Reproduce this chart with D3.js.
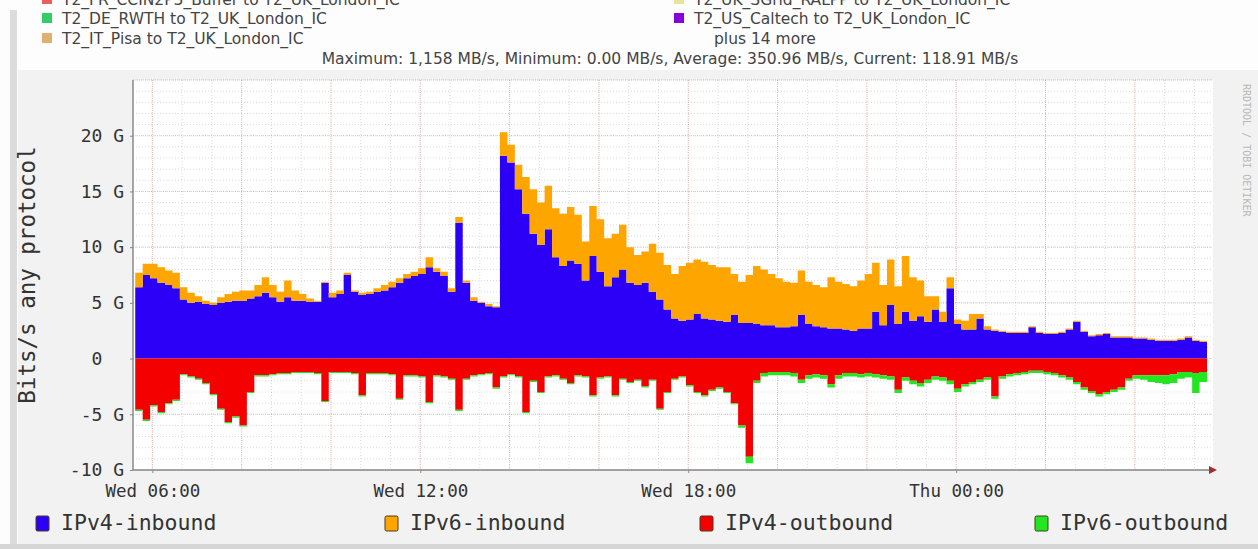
<!DOCTYPE html>
<html>
<head>
<meta charset="utf-8">
<script src="https://cdn.jsdelivr.net/npm/d3@7"></script>
<style>
  body { margin: 0; background: #fff; }
  svg { display: block; }
</style>
</head>
<body>
<svg id="chart" width="1258" height="549"></svg>
<script>
// 10-minute samples from Wed 05:37, values in Gbit/s
const ipv4In = [
  6.4, 7.5, 7.2, 6.8, 6.6, 6.3, 5.3, 5.0, 5.1, 4.9,
  4.8, 5.0, 5.1, 5.2, 5.2, 5.4, 5.6, 5.9, 5.5, 5.1,
  5.5, 5.2, 5.2, 5.1, 5.1, 6.8, 5.5, 5.8, 7.5, 6.0,
  5.7, 5.8, 6.0, 6.1, 6.4, 6.8, 7.2, 7.4, 7.6, 8.2,
  7.8, 7.4, 6.0, 12.2, 6.8, 5.2, 5.0, 4.7, 4.6, 18.2,
  17.6, 15.2, 13.0, 11.2, 10.2, 11.6, 9.1, 8.3, 8.8, 8.5,
  7.0, 9.2, 7.8, 6.5, 7.3, 8.0, 6.8, 6.6, 6.8, 6.0,
  5.3, 4.4, 3.6, 3.4, 3.5, 4.0, 3.6, 3.5, 3.4, 3.3,
  3.9, 3.2, 3.2, 3.1, 3.0, 3.0, 2.8, 2.8, 2.9, 3.9,
  3.1, 2.9, 2.8, 2.7, 2.7, 2.6, 2.5, 2.7, 2.7, 4.2,
  3.0, 4.8, 3.1, 4.2, 3.4, 3.8, 3.3, 4.4, 3.3, 6.3,
  3.1, 2.6, 2.6, 3.6, 2.6, 2.5, 2.4, 2.3, 2.3, 2.3,
  2.8, 2.3, 2.2, 2.2, 2.3, 2.6, 3.3, 2.4, 2.0, 2.1,
  2.2, 1.9, 1.9, 1.9, 1.8, 1.8, 1.7, 1.6, 1.6, 1.6,
  1.7, 1.9, 1.6, 1.5
];
const ipv6In = [
  1.3, 1.0, 1.3, 1.4, 1.3, 1.4, 1.1, 0.9, 0.5, 0.3,
  0.2, 0.5, 0.7, 0.8, 0.9, 0.7, 1.0, 1.4, 1.1, 0.9,
  1.5, 0.9, 0.6, 0.3, 0.1, 0.1, 0.4, 0.3, 0.2, 0.1,
  0.2, 0.2, 0.3, 0.5, 0.5, 0.4, 0.4, 0.4, 0.5, 0.9,
  0.3, 0.4, 0.3, 0.5, 0.2, 0.3, 0.1, 0.2, 0.1, 2.1,
  1.6, 2.2, 3.3, 4.0, 3.8, 3.9, 4.4, 4.7, 4.8, 4.4,
  3.5, 4.5, 4.7, 4.3, 3.9, 4.0, 3.2, 2.7, 2.8, 4.3,
  4.2, 4.0, 4.0, 4.9, 5.1, 4.9, 5.1, 4.9, 4.8, 4.9,
  3.7, 3.7, 4.3, 5.2, 5.0, 4.6, 4.4, 4.1, 3.9, 4.0,
  3.8, 3.7, 3.6, 4.6, 4.2, 4.1, 4.0, 4.3, 4.9, 4.4,
  3.6, 4.1, 3.4, 5.0, 3.9, 3.2, 2.3, 1.2, 0.9, 1.0,
  0.4, 0.8, 1.4, 0.4, 0.3, 0.1, 0.1, 0.1, 0.1, 0.1,
  0.1, 0.1, 0.1, 0.1, 0.1, 0.1, 0.1, 0.1, 0.1, 0.1,
  0.1, 0.1, 0.1, 0.1, 0.1, 0.1, 0.1, 0.1, 0.1, 0.1,
  0.1, 0.1, 0.1, 0.1
];
const ipv4Out = [
  -4.6, -5.5, -4.2, -4.8, -4.0, -3.7, -1.4, -1.6, -1.8, -2.2,
  -3.2, -4.5, -5.7, -5.2, -6.0, -3.0, -1.5, -1.5, -1.4, -1.3,
  -1.3, -1.2, -1.2, -1.2, -1.3, -3.8, -1.2, -1.2, -1.2, -1.3,
  -3.3, -1.3, -1.3, -1.3, -1.4, -3.6, -1.5, -1.5, -1.6, -3.9,
  -1.5, -1.6, -1.8, -4.6, -1.8, -1.5, -1.4, -1.3, -2.6, -1.6,
  -1.4, -1.6, -4.8, -2.0, -3.0, -1.6, -1.5, -1.8, -2.2, -1.5,
  -1.6, -3.3, -1.7, -1.6, -3.3, -1.8, -2.1, -1.9, -2.5, -1.9,
  -4.5, -3.0, -1.8, -1.6, -2.4, -3.0, -3.3, -2.8, -2.6, -3.0,
  -4.0, -6.0, -8.8, -2.0, -1.3, -1.2, -1.2, -1.2, -1.3, -1.9,
  -1.5, -1.4, -1.5, -2.3, -1.5, -1.3, -1.3, -1.4, -1.3, -1.4,
  -1.5, -1.6, -2.8, -1.7, -2.0, -2.2, -1.9, -1.6, -1.7, -2.0,
  -2.7, -2.3, -2.1, -1.9, -1.7, -3.4, -1.6, -1.4, -1.3, -1.2,
  -1.1, -1.1, -1.2, -1.3, -1.5, -1.7, -2.1, -2.6, -2.9, -3.2,
  -3.0, -2.8, -2.6, -1.8, -1.5, -1.5, -1.5, -1.5, -1.5, -1.4,
  -1.2, -1.2, -1.3, -1.2
];
const ipv6Out = [
  -0.1, -0.1, -0.1, -0.1, -0.1, -0.1, -0.1, -0.1, -0.1, -0.1,
  -0.1, -0.1, -0.1, -0.1, -0.1, -0.1, -0.1, -0.1, -0.1, -0.1,
  -0.1, -0.1, -0.1, -0.1, -0.1, -0.1, -0.1, -0.1, -0.1, -0.1,
  -0.1, -0.1, -0.1, -0.1, -0.1, -0.1, -0.1, -0.1, -0.1, -0.1,
  -0.1, -0.1, -0.1, -0.1, -0.1, -0.1, -0.1, -0.1, -0.1, -0.1,
  -0.1, -0.1, -0.1, -0.1, -0.1, -0.1, -0.1, -0.1, -0.1, -0.1,
  -0.1, -0.1, -0.1, -0.1, -0.1, -0.1, -0.1, -0.1, -0.1, -0.1,
  -0.1, -0.1, -0.1, -0.1, -0.1, -0.1, -0.1, -0.1, -0.1, -0.1,
  -0.1, -0.2, -0.6, -0.2, -0.3, -0.3, -0.3, -0.3, -0.3, -0.3,
  -0.3, -0.3, -0.3, -0.3, -0.3, -0.3, -0.3, -0.3, -0.3, -0.3,
  -0.3, -0.3, -0.3, -0.3, -0.3, -0.3, -0.3, -0.3, -0.3, -0.3,
  -0.3, -0.2, -0.2, -0.2, -0.2, -0.2, -0.2, -0.2, -0.2, -0.2,
  -0.2, -0.2, -0.2, -0.2, -0.2, -0.2, -0.2, -0.2, -0.2, -0.2,
  -0.2, -0.2, -0.2, -0.2, -0.3, -0.4, -0.6, -0.7, -0.8, -0.8,
  -0.6, -0.5, -1.8, -0.9
];

const seriesKeys = ['ipv4In', 'ipv6In', 'ipv4Out', 'ipv6Out'];
const seriesNames = ['IPv4-inbound', 'IPv6-inbound', 'IPv4-outbound', 'IPv6-outbound'];
const seriesColors = ['#2c00f6', '#ffa500', '#f40000', '#22e622'];

const yTicks = [-10, -5, 0, 5, 10, 15, 20];
const yTickLabels = ['-10 G', '-5 G', '0\u00a0\u00a0', '5 G', '10 G', '15 G', '20 G'];
const yTitle = 'Bits/s any protocol';

const topLegend = [
  { row: 0, col: 0, color: '#e86060', text: 'T2_FR_CCIN2P3_Buffer to T2_UK_London_IC' },
  { row: 0, col: 1, color: '#e8e4a0', text: 'T2_UK_SGrid_RALPP to T2_UK_London_IC' },
  { row: 1, col: 0, color: '#33cc66', text: 'T2_DE_RWTH to T2_UK_London_IC' },
  { row: 1, col: 1, color: '#8a00d8', text: 'T2_US_Caltech to T2_UK_London_IC' },
  { row: 2, col: 0, color: '#e0b070', text: 'T2_IT_Pisa to T2_UK_London_IC' },
  { row: 2, col: 1, color: null, text: 'plus 14 more' }
];
const statsLine = 'Maximum: 1,158 MB/s, Minimum: 0.00 MB/s, Average: 350.96 MB/s, Current: 118.91 MB/s';

const start = new Date(2013, 0, 2, 5, 37);
const stepMin = 10;

const W = 1258, H = 549;
const plot = { left: 133, right: 1213, top: 80, bottom: 470 };
const mono = '"DejaVu Sans Mono", monospace';
const sans = '"DejaVu Sans", sans-serif';

const svg = d3.select('#chart');

// page / rrd canvas backgrounds
svg.append('rect').attr('width', W).attr('height', H).attr('fill', '#fdfdfd');
svg.append('rect').attr('x', 18).attr('y', 70).attr('width', W - 18).attr('height', 474)
  .attr('fill', '#f2f2f2');
svg.append('rect').attr('x', 10).attr('y', 10).attr('width', 7).attr('height', 534)
  .attr('fill', '#dcdcdc');
svg.append('rect').attr('x', 0).attr('y', 544).attr('width', W).attr('height', 5)
  .attr('fill', '#d6d6d6');

// table for the stack
const rows = ipv4In.map((v, i) => ({
  time: d3.timeMinute.offset(start, i * stepMin),
  ipv4In: v, ipv6In: ipv6In[i], ipv4Out: ipv4Out[i], ipv6Out: ipv6Out[i]
}));
// close the last step
rows.push(Object.assign({}, rows[rows.length - 1],
  { time: d3.timeMinute.offset(start, rows.length * stepMin) }));

const x = d3.scaleTime()
  .domain([new Date(2013, 0, 2, 5, 34), new Date(2013, 0, 3, 5, 45)])
  .range([plot.left, plot.right]);
const y = d3.scaleLinear().domain([-10, 25]).range([plot.bottom, plot.top]);

// plot area
svg.append('rect')
  .attr('x', plot.left).attr('y', plot.top)
  .attr('width', plot.right - plot.left).attr('height', plot.bottom - plot.top)
  .attr('fill', '#ffffff');

const grid = svg.append('g').attr('class', 'grid');
const minorX = d3.timeMinute.range(new Date(2013, 0, 2, 4, 40), x.domain()[1], 40)
  .filter(d => d >= x.domain()[0]);
const majorX = x.ticks(d3.timeHour.every(2));

grid.selectAll('line.minor-x').data(minorX).enter().append('line')
  .attr('x1', d => x(d)).attr('x2', d => x(d))
  .attr('y1', plot.top).attr('y2', plot.bottom)
  .attr('stroke', 'rgba(150,150,150,0.35)').attr('stroke-dasharray', '1,2');
grid.selectAll('line.minor-y').data(d3.range(-10, 26, 1)).enter().append('line')
  .attr('x1', plot.left).attr('x2', plot.right)
  .attr('y1', d => y(d)).attr('y2', d => y(d))
  .attr('stroke', 'rgba(150,150,150,0.35)').attr('stroke-dasharray', '1,2');
grid.selectAll('line.major-x').data(majorX).enter().append('line')
  .attr('x1', d => x(d)).attr('x2', d => x(d))
  .attr('y1', plot.top).attr('y2', plot.bottom)
  .attr('stroke', 'rgba(240,90,90,0.35)').attr('stroke-dasharray', '1,1');
grid.selectAll('line.major-y').data(d3.range(-10, 26, 5)).enter().append('line')
  .attr('x1', plot.left).attr('x2', plot.right)
  .attr('y1', d => y(d)).attr('y2', d => y(d))
  .attr('stroke', 'rgba(240,90,90,0.35)').attr('stroke-dasharray', '1,1');

// stacked areas
const stack = d3.stack().keys(seriesKeys).offset(d3.stackOffsetDiverging);
const layers = stack(rows);
const area = d3.area()
  .curve(d3.curveStepAfter)
  .x(d => x(d.data.time))
  .y0(d => y(d[0]))
  .y1(d => y(d[1]));

svg.append('g').selectAll('path').data(layers).enter().append('path')
  .attr('d', area)
  .attr('fill', (d, i) => seriesColors[i]);

// axes
const axes = svg.append('g').attr('stroke', '#8a8a8a').attr('stroke-width', 1.5);
axes.append('line').attr('x1', plot.left).attr('x2', plot.right)
  .attr('y1', plot.bottom).attr('y2', plot.bottom);
axes.append('line').attr('x1', plot.left).attr('x2', plot.left)
  .attr('y1', plot.top).attr('y2', plot.bottom);
svg.append('path')
  .attr('d', `M${plot.right - 4},${plot.bottom - 4}L${plot.right + 4},${plot.bottom}L${plot.right - 4},${plot.bottom + 4}Z`)
  .attr('fill', '#a03030');

const xAxis = d3.axisBottom(x)
  .ticks(d3.timeHour.every(6))
  .tickFormat(d3.timeFormat('%a %H:%M'))
  .tickSize(3);
const gx = svg.append('g').attr('transform', `translate(0,${plot.bottom})`).call(xAxis);
gx.select('.domain').remove();
gx.selectAll('.tick line').attr('stroke', '#8a8a8a');
gx.selectAll('.tick text')
  .attr('y', 15)
  .attr('font-family', mono).attr('font-size', 17.5).attr('fill', '#333');

const yAxis = d3.axisLeft(y)
  .tickValues(yTicks)
  .tickFormat((d, i) => yTickLabels[i])
  .tickSize(3);
const gy = svg.append('g').attr('transform', `translate(${plot.left},0)`).call(yAxis);
gy.select('.domain').remove();
gy.selectAll('.tick line').attr('stroke', '#8a8a8a');
gy.selectAll('.tick text')
  .attr('x', -9)
  .attr('font-family', mono).attr('font-size', 18).attr('fill', '#333')
  .style('white-space', 'pre');

svg.append('text')
  .attr('transform', `translate(35,${(y(25) + y(-10)) / 2}) rotate(-90)`)
  .attr('text-anchor', 'middle')
  .attr('font-family', mono).attr('font-size', 22.5).attr('fill', '#333')
  .text(yTitle);

// watermark
svg.append('text')
  .attr('transform', 'translate(1243,84) rotate(90)')
  .attr('font-family', mono).attr('font-size', 10).attr('fill', '#b8b8b8')
  .text('RRDTOOL / TOBI OETIKER');

// bottom legend
const legendX = [36, 385, 700, 1035];
const leg = svg.append('g').selectAll('g').data(seriesNames).enter().append('g')
  .attr('transform', (d, i) => `translate(${legendX[i]},516)`);
leg.append('rect').attr('width', 13).attr('height', 15).attr('rx', 1.5)
  .attr('fill', (d, i) => seriesColors[i]).attr('stroke', '#4a3a20').attr('stroke-width', 1);
leg.append('text').attr('x', 25).attr('y', 14)
  .attr('font-family', mono).attr('font-size', 21.5).attr('fill', '#333')
  .text(d => d);

// top legend (first row partly cut off at the top, as in the source)
const rowY = [5, 24, 44];
const colX = [42, 674];
const tl = svg.append('g').selectAll('g').data(topLegend).enter().append('g')
  .attr('transform', d => `translate(${colX[d.col]},${rowY[d.row]})`);
tl.filter(d => d.color).append('rect')
  .attr('x', 0).attr('y', -11).attr('width', 10).attr('height', 10)
  .attr('fill', d => d.color);
tl.append('text')
  .attr('x', d => d.color ? 20 : 40)
  .attr('font-family', sans).attr('font-size', 15.5).attr('fill', '#444')
  .text(d => d.text);

svg.append('text')
  .attr('x', 670).attr('y', 64).attr('text-anchor', 'middle')
  .attr('font-family', sans).attr('font-size', 15.5).attr('fill', '#444')
  .text(statsLine);
</script>
</body>
</html>
